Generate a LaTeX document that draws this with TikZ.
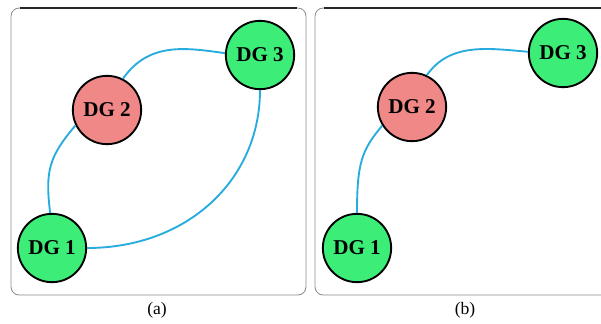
\documentclass[tikz,border=0pt]{standalone}
\usepackage{fontspec}
\setmainfont{Liberation Serif}
\definecolor{dggreen}{RGB}{60,238,120}
\definecolor{dgred}{RGB}{240,136,136}
\definecolor{linkblue}{RGB}{40,172,222}
\tikzset{
  dg/.style={circle, draw=black, line width=1.6pt, minimum size=2.05cm, inner sep=0pt, font=\fontsize{18}{18}\selectfont\bfseries},
  link/.style={draw=linkblue, line width=1.6pt},
  panel/.style={draw=black!45, line width=0.7pt, rounded corners=7pt}
}
\begin{document}
\begin{tikzpicture}[x=0.03cm, y=0.03cm]
  \useasboundingbox (0,0) rectangle (601,323);
  \clip (0,0) rectangle (601,323);
  % panels
  \foreach \l/\r in {11/306, 315/612} {
    \draw[panel] (\l,28) rectangle (\r,315);
    \draw[line width=1.1pt, black!85] (\l+9,315) -- (\r-9,315);
  }
  % nodes
  \foreach \name/\x/\y/\col/\txt in {a1/52/75/dggreen/DG 1, a2/107/213/dgred/DG 2, a3/260/268/dggreen/DG 3,
                                    b1/357/75/dggreen/DG 1, b2/412/216/dgred/DG 2, b3/563/270/dggreen/DG 3} {
    \node[dg, fill=\col] (\name) at (\x,\y) {\txt};
  }
  % links
  \draw[link] (a1.93) .. controls +(97:43) and +(230:41) .. (a2.206);
  \draw[link] (a2.63) .. controls +(55:45) and +(172:40) .. (a3.177);
  \draw[link] (a3.south) .. controls +(0,-90) and +(100,0) .. (a1.east);
  \draw[link] (b1.north) .. controls +(0,50) and +(230:32) .. (b2.212);
  \draw[link] (b2.65) .. controls +(55:40) and +(175:40) .. (b3.178);
  % captions
  \node[font=\fontsize{15}{15}\selectfont] (capa) at (157,13) {(a)};
  \node[font=\fontsize{15}{15}\selectfont] (capb) at (465,13) {(b)};
\end{tikzpicture}
\end{document}
